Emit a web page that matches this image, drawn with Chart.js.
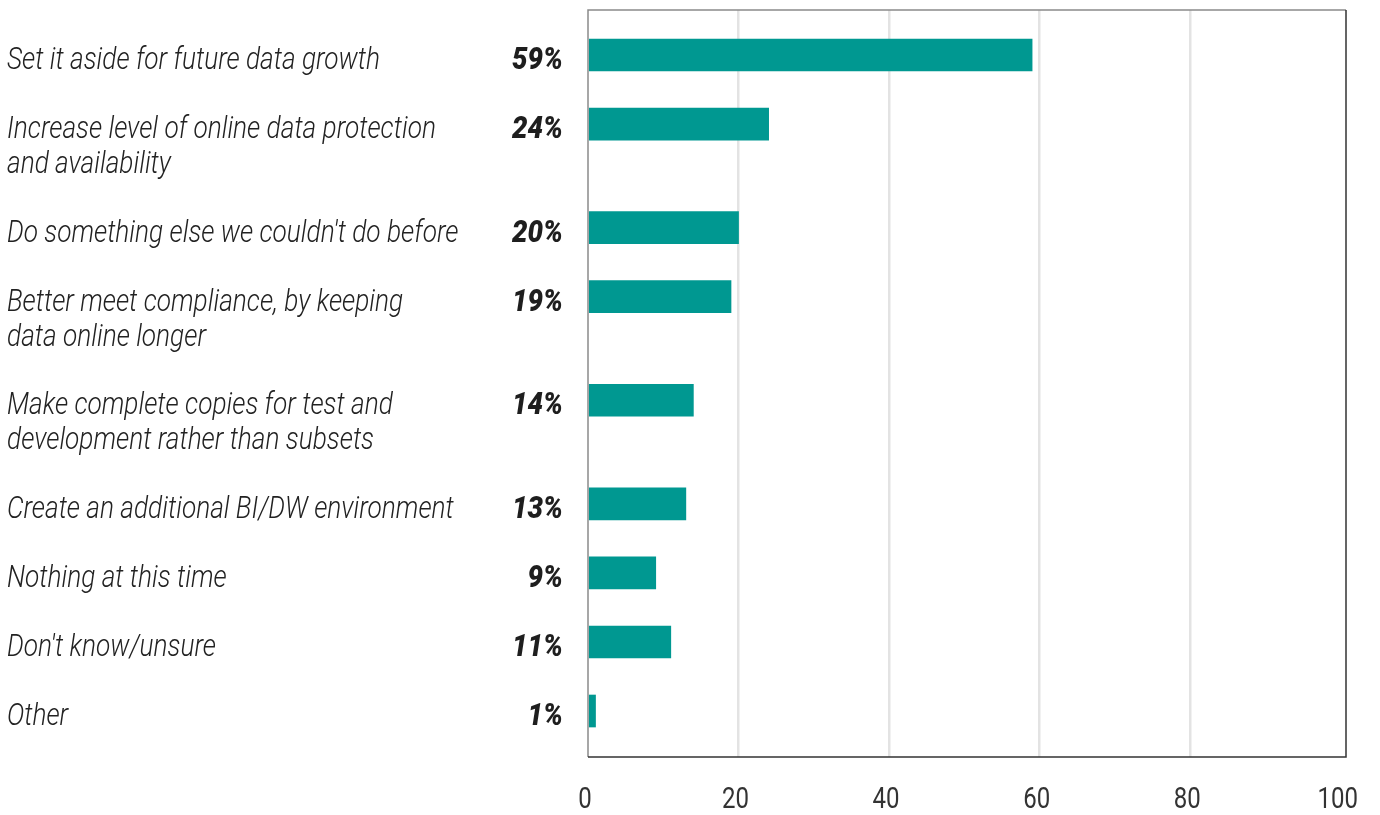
<!DOCTYPE html>
<html>
<head>
<meta charset="utf-8">
<script src="https://cdn.jsdelivr.net/npm/chart.js@4.4.1/dist/chart.umd.min.js"></script>
<style>
  html, body { margin: 0; padding: 0; background: #ffffff; }
  #wrap { width: 1380px; height: 815px; }
</style>
</head>
<body>
<div id="wrap"><canvas id="c" width="1380" height="815"></canvas></div>
<script>
// ---- Data ----
const categories = [
  ["Set it aside for future data growth"],
  ["Increase level of online data protection", "and availability"],
  ["Do something else we couldn't do before"],
  ["Better meet compliance, by keeping", "data online longer"],
  ["Make complete copies for test and", "development rather than subsets"],
  ["Create an additional BI/DW environment"],
  ["Nothing at this time"],
  ["Don't know/unsure"],
  ["Other"]
];
const values = [59, 24, 20, 19, 14, 13, 9, 11, 1];
const valueLabels = ["59%", "24%", "20%", "19%", "14%", "13%", "9%", "11%", "1%"];
const xTickValues = [0, 20, 40, 60, 80, 100];

// Row positions derived from how many text lines each category label uses
const rowPos = [];
(function () {
  let p = 0;
  categories.forEach(lines => { rowPos.push(p); p += lines.length > 1 ? 1.5 : 1; });
})();

const FAMILY = 'Roboto, "Liberation Sans", sans-serif';
const CAT_FONT = 'italic 300 31px ' + FAMILY;
const PCT_FONT = 'italic 900 31px ' + FAMILY;
const TICK_FONT = '400 30px ' + FAMILY;

function squeeze(ctx, font, sample, targetWidth) {
  ctx.font = font;
  return targetWidth / ctx.measureText(sample).width;
}
function drawSqueezed(ctx, text, x, y, align, sx) {
  ctx.save();
  ctx.translate(x, y);
  ctx.scale(sx, 1);
  ctx.textAlign = align;
  ctx.fillText(text, 0, 0);
  ctx.restore();
}

const labelPlugin = {
  id: 'labelPlugin',
  afterDraw(chart) {
    const ctx = chart.ctx;
    const ys = chart.scales.y;
    const xs = chart.scales.x;
    const area = chart.chartArea;
    ctx.save();
    // frame
    ctx.lineWidth = 1.5;
    ctx.strokeStyle = '#8a8a8a';
    ctx.beginPath();
    ctx.moveTo(area.left, area.bottom);
    ctx.lineTo(area.left, area.top);
    ctx.lineTo(area.right, area.top);
    ctx.stroke();
    ctx.strokeStyle = '#333333';
    ctx.beginPath();
    ctx.moveTo(area.right, area.top);
    ctx.lineTo(area.right, area.bottom);
    ctx.lineTo(area.left, area.bottom);
    ctx.stroke();

    ctx.textBaseline = 'alphabetic';
    const sxCat = squeeze(ctx, CAT_FONT, categories[0][0], 373);
    const sxPct = squeeze(ctx, PCT_FONT, '24%', 51);
    const sxTick = squeeze(ctx, TICK_FONT, '20', 27);

    categories.forEach((lines, i) => {
      const y = ys.getPixelForValue(rowPos[i]);
      ctx.fillStyle = '#222222';
      ctx.font = CAT_FONT;
      lines.forEach((ln, j) => drawSqueezed(ctx, ln, 7, y + 14 + j * 35, 'left', sxCat));
      ctx.fillStyle = '#1e1e1e';
      ctx.font = PCT_FONT;
      drawSqueezed(ctx, valueLabels[i], 563, y + 14, 'right', sxPct);
    });

    ctx.fillStyle = '#333333';
    ctx.font = TICK_FONT;
    xTickValues.forEach(v => {
      drawSqueezed(ctx, String(v), xs.getPixelForValue(v) - 3, area.bottom + 51, 'center', sxTick);
    });
    ctx.restore();
  }
};

new Chart(document.getElementById('c'), {
  type: 'bar',
  data: {
    datasets: [{
      data: values.map((v, i) => ({ x: v, y: rowPos[i] })),
      backgroundColor: '#009891',
      borderWidth: 0,
      barThickness: 32
    }]
  },
  options: {
    indexAxis: 'y',
    responsive: false,
    animation: false,
    layout: { padding: { left: 588, right: 34, top: 10, bottom: 0 } },
    plugins: { legend: { display: false }, tooltip: { enabled: false } },
    scales: {
      x: {
        type: 'linear',
        position: 'bottom',
        min: 0,
        max: 100.7,
        afterBuildTicks: s => { s.ticks = xTickValues.map(v => ({ value: v })); },
        afterFit: s => { s.height = 58; },
        grid: {
          drawTicks: false,
          lineWidth: 2.5,
          color: c => (c.tick && (c.tick.value === 0 || c.tick.value === 100)) ? 'rgba(0,0,0,0)' : '#e3e3e3'
        },
        border: { display: false },
        ticks: { display: false }
      },
      y: {
        type: 'linear',
        reverse: true,
        offset: false,
        min: -0.652,
        max: 10.166,
        display: false
      }
    }
  },
  plugins: [labelPlugin]
});
</script>
</body>
</html>
